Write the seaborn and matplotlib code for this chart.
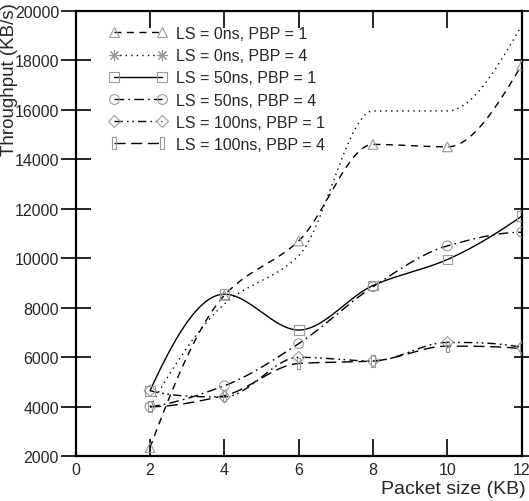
import numpy as np
import pandas as pd
import matplotlib
matplotlib.use("Agg")
import matplotlib.pyplot as plt
import seaborn as sns
from matplotlib.lines import Line2D

# ---- data ----
packet_size = [2, 4, 6, 8, 10, 12]
ls0_pbp1 = [2350, 8500, 10700, 14600, 14500, 17800]
ls0_pbp4 = [4000, 8150, 10100, 15950, 15950, 19400]
ls50_pbp1 = [4650, 8550, 7100, 8900, 9950, 11700]
ls50_pbp4 = [4000, 4850, 6550, 8850, 10500, 11050]
ls100_pbp1 = [4650, 4400, 6000, 5850, 6600, 6400]
ls100_pbp4 = [4000, 4450, 5750, 5850, 6450, 6350]
labels = ["LS = 0ns, PBP = 1", "LS = 0ns, PBP = 4", "LS = 50ns, PBP = 1",
          "LS = 50ns, PBP = 4", "LS = 100ns, PBP = 1", "LS = 100ns, PBP = 4"]
xticks = [0, 2, 4, 6, 8, 10, 12]
yticks = [2000, 4000, 6000, 8000, 10000, 12000, 14000, 16000, 18000, 20000]

series = [ls0_pbp1, ls0_pbp4, ls50_pbp1, ls50_pbp4, ls100_pbp1, ls100_pbp4]

rect = [(-0.3, -1), (0.3, -1), (0.3, 1), (-0.3, 1), (-0.3, -1)]
markers = ["^", (8, 2, 0), "s", "o", "D", rect]
msizes = [7, 8, 7, 7, 6, 8]
linestyles = [(0, (5, 4)), (0, (1, 3)), "-", (0, (7, 3, 1.2, 3)),
              (0, (6, 3, 1.2, 2.5, 1.2, 3)), (0, (8, 4))]

sns.set_style("white")
plt.rcParams["font.family"] = ["Liberation Sans", "DejaVu Sans"]


def pchip(x, y, xs):
    """Monotone piecewise cubic Hermite (Fritsch-Carlson) for smooth drawing."""
    x = np.asarray(x, float)
    y = np.asarray(y, float)
    h = np.diff(x)
    d = np.diff(y) / h
    n = len(x)
    m = np.zeros(n)
    for k in range(1, n - 1):
        if d[k - 1] * d[k] > 0:
            w1 = 2 * h[k] + h[k - 1]
            w2 = h[k] + 2 * h[k - 1]
            m[k] = (w1 + w2) / (w1 / d[k - 1] + w2 / d[k])
        else:
            m[k] = 0.0

    def end(h0, h1, d0, d1):
        v = ((2 * h0 + h1) * d0 - h0 * d1) / (h0 + h1)
        if np.sign(v) != np.sign(d0):
            v = 0.0
        elif np.sign(d0) != np.sign(d1) and abs(v) > abs(3 * d0):
            v = 3 * d0
        return v

    m[0] = end(h[0], h[1], d[0], d[1])
    m[-1] = end(h[-1], h[-2], d[-1], d[-2])
    idx = np.clip(np.searchsorted(x, xs) - 1, 0, n - 2)
    hh = h[idx]
    t = (xs - x[idx]) / hh
    h00 = 2 * t ** 3 - 3 * t ** 2 + 1
    h10 = t ** 3 - 2 * t ** 2 + t
    h01 = -2 * t ** 3 + 3 * t ** 2
    h11 = t ** 3 - t ** 2
    return h00 * y[idx] + h10 * hh * m[idx] + h01 * y[idx + 1] + h11 * hh * m[idx + 1]


fig = plt.figure(figsize=(5.29, 5.02), dpi=100)
ax = fig.add_axes([75.7 / 529, 44.7 / 502, 446 / 529, 445.6 / 502])

mcolor = "#9a9a9a"
xs = np.linspace(min(packet_size), max(packet_size), 300)
handles = []
for vals, lab, mk, ms, lsty in zip(series, labels, markers, msizes, linestyles):
    dense = pd.DataFrame({"x": xs, "y": pchip(packet_size, vals, xs)})
    sns.lineplot(data=dense, x="x", y="y", ax=ax, color="black", lw=1.0,
                 linestyle=lsty, sort=False, estimator=None)
    pts = pd.DataFrame({"x": packet_size, "y": vals})
    sns.scatterplot(data=pts, x="x", y="y", ax=ax, marker=mk, s=ms ** 2,
                    facecolors="none", edgecolors=mcolor, color=mcolor,
                    linewidths=0.8, zorder=3)
    handles.append(Line2D([], [], color="black", lw=1.0, linestyle=lsty,
                          marker=mk, markersize=ms, markerfacecolor="none",
                          markeredgecolor=mcolor, markeredgewidth=0.8))

ax.set_xlim(0, 12)
ax.set_ylim(2000, 20000)
ax.set_xticks(xticks)
ax.set_yticks(yticks)
ax.set_xlabel("")
ax.set_ylabel("")
for sp in ax.spines.values():
    sp.set_linewidth(1.6)
    sp.set_color("black")
ax.tick_params(axis="x", which="both", direction="in", length=12, width=1.2,
               top=True, bottom=True, labelsize=11.5, pad=4, color="black")
ax.tick_params(axis="y", which="both", direction="in", length=12, width=1.2,
               right=True, left=False, labelsize=11.5, color="black")
ax.tick_params(axis="y", left=True, direction="inout", length=22, pad=1)
for t in ax.yaxis.get_major_ticks():
    t.tick2line.set_markersize(12)

leg = ax.legend(handles=handles, labels=labels, loc="upper left",
                bbox_to_anchor=(0.06, 0.98), frameon=False, numpoints=2,
                handlelength=3.6, handletextpad=0.6, labelspacing=0.45,
                fontsize=11.5, borderaxespad=0)

fig.text(10 / 529, 1 - 3 / 502, "Throughput (KB/s)", rotation=90,
         ha="center", va="top", fontsize=13.5)
fig.text(526 / 529, 1 - 490 / 502, "Packet size (KB)", ha="right",
         va="center", fontsize=14)

fig.savefig("out.png", dpi=100)
